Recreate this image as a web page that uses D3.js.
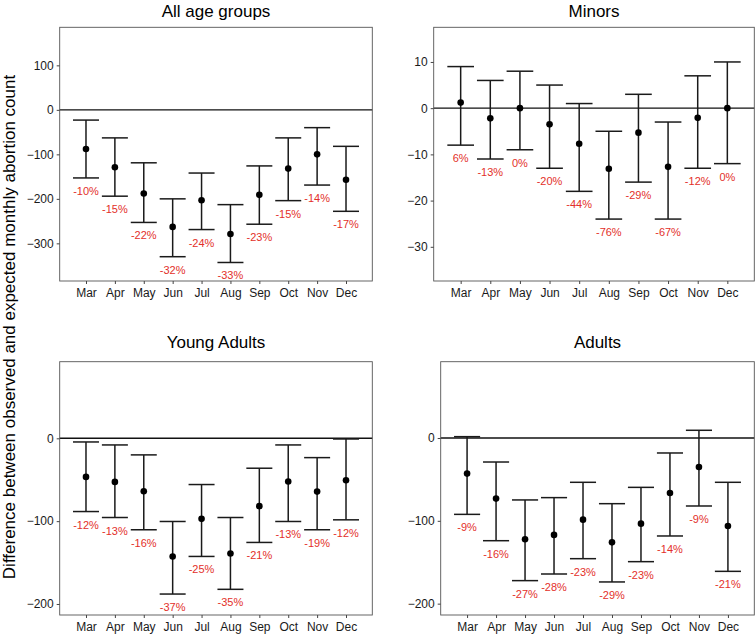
<!DOCTYPE html>
<html>
<head>
<meta charset="utf-8">
<script src="https://cdn.jsdelivr.net/npm/d3@7"></script>
<style>
  html, body { margin: 0; padding: 0; background: #fff; }
  svg { display: block; font-family: "Liberation Sans", Arial, Helvetica, sans-serif; }
</style>
</head>
<body>
<svg id="chart" width="756" height="636"></svg>
<script>
// ---------------- DATA ----------------
const months = ["Mar", "Apr", "May", "Jun", "Jul", "Aug", "Sep", "Oct", "Nov", "Dec"];

const allEst   = [-88, -129, -188, -263, -203, -279, -191, -132, -100, -157];
const allLower = [-153, -194, -253, -330, -269, -343, -257, -204, -169, -228];
const allUpper = [-23, -63, -119, -200, -142, -213, -126, -63, -40, -82];
const allPct   = ["-10%", "-15%", "-22%", "-32%", "-24%", "-33%", "-23%", "-15%", "-14%", "-17%"];
const allTicks = [100, 0, -100, -200, -300];

const minEst   = [1.2, -2.2, 0, -3.5, -7.7, -13.1, -5.3, -12.7, -2.1, 0];
const minLower = [-8, -11, -9, -13, -18, -24, -16, -24, -13, -12];
const minUpper = [9, 6, 8, 5, 1, -5, 3, -3, 7, 10];
const minPct   = ["6%", "-13%", "0%", "-20%", "-44%", "-76%", "-29%", "-67%", "-12%", "0%"];
const minTicks = [10, 0, -10, -20, -30];

const yaEst   = [-46.6, -52.6, -63.9, -142.6, -97.2, -139, -81.9, -52.2, -64.3, -50.6];
const yaLower = [-88.4, -95.6, -110.4, -188, -142.6, -182.3, -125.7, -100.4, -110.4, -98.4];
const yaUpper = [-4.4, -8, -20, -100.4, -55.8, -95.6, -36.1, -8, -23.3, -0.8];
const yaPct   = ["-12%", "-13%", "-16%", "-37%", "-25%", "-35%", "-21%", "-13%", "-19%", "-12%"];
const yaTicks = [0, -100, -200];

const adEst   = [-43, -73.2, -122.3, -117, -98.6, -126, -103.4, -66.4, -35, -106.2];
const adLower = [-92.2, -124, -172.2, -164.2, -145.7, -173.8, -149.3, -118.3, -82.1, -161];
const adUpper = [1.6, -29, -74.8, -72, -53.5, -79.3, -59.6, -18.1, 9.3, -53.5];
const adPct   = ["-9%", "-16%", "-27%", "-28%", "-23%", "-29%", "-23%", "-14%", "-9%", "-21%"];
const adTicks = [0, -100, -200];

const titles = ["All age groups", "Minors", "Young Adults", "Adults"];
const yTitle = "Difference between observed and expected monthly abortion count";

// ---------------- LAYOUT ----------------
const panels = [
  { title: titles[0], est: allEst, lo: allLower, hi: allUpper, pct: allPct, ticks: allTicks,
    box: [59.7, 27.3, 372.3, 281], dom: [-384.6, 185.5], titleY: 17 },
  { title: titles[1], est: minEst, lo: minLower, hi: minUpper, pct: minPct, ticks: minTicks,
    box: [433.7, 27.3, 754.3, 281], dom: [-37.4, 17.5], titleY: 17 },
  { title: titles[2], est: yaEst, lo: yaLower, hi: yaUpper, pct: yaPct, ticks: yaTicks,
    box: [59.7, 361.7, 372.3, 615], dom: [-213.3, 92.5], titleY: 348 },
  { title: titles[3], est: adEst, lo: adLower, hi: adUpper, pct: adPct, ticks: adTicks,
    box: [440.7, 361.7, 754.3, 615], dom: [-213.7, 92.1], titleY: 348 }
];

const svg = d3.select("#chart");
const textColor = "#1a1a1a";
const lineColor = "#1a1a1a";
const red = "#e3302a";

panels.forEach(p => {
  const [x0, y0, x1, y1] = p.box;
  const x = d3.scaleLinear().domain([1 - 0.91, months.length + 0.91]).range([x0, x1]);
  const y = d3.scaleLinear().domain(p.dom).range([y1, y0]);
  const band = x(2) - x(1);
  const capHalf = band * 0.45;

  const g = svg.append("g");

  // title
  g.append("text")
    .attr("x", (x0 + x1) / 2).attr("y", p.titleY)
    .attr("text-anchor", "middle")
    .attr("font-size", 17).attr("fill", "#000")
    .text(p.title);

  // zero line
  g.append("line")
    .attr("x1", x0).attr("x2", x1)
    .attr("y1", y(0)).attr("y2", y(0))
    .attr("stroke", "#111").attr("stroke-width", 1.4);

  // error bars
  const items = months.map((m, i) => ({ m, i, est: p.est[i], lo: p.lo[i], hi: p.hi[i], pct: p.pct[i] }));
  const eb = g.selectAll("g.eb").data(items).enter().append("g").attr("class", "eb");
  eb.append("line")
    .attr("x1", d => x(d.i + 1)).attr("x2", d => x(d.i + 1))
    .attr("y1", d => y(d.hi)).attr("y2", d => y(d.lo))
    .attr("stroke", lineColor).attr("stroke-width", 1.5);
  eb.append("line")
    .attr("x1", d => x(d.i + 1) - capHalf).attr("x2", d => x(d.i + 1) + capHalf)
    .attr("y1", d => y(d.hi)).attr("y2", d => y(d.hi))
    .attr("stroke", lineColor).attr("stroke-width", 1.5);
  eb.append("line")
    .attr("x1", d => x(d.i + 1) - capHalf).attr("x2", d => x(d.i + 1) + capHalf)
    .attr("y1", d => y(d.lo)).attr("y2", d => y(d.lo))
    .attr("stroke", lineColor).attr("stroke-width", 1.5);
  eb.append("circle")
    .attr("cx", d => x(d.i + 1)).attr("cy", d => y(d.est))
    .attr("r", 3.3).attr("fill", "#000");
  eb.append("text")
    .attr("x", d => x(d.i + 1)).attr("y", d => y(d.lo) + 17)
    .attr("text-anchor", "middle")
    .attr("font-size", 11).attr("fill", red)
    .text(d => d.pct);

  // frame
  g.append("rect")
    .attr("x", x0).attr("y", y0).attr("width", x1 - x0).attr("height", y1 - y0)
    .attr("fill", "none").attr("stroke", "#555").attr("stroke-width", 0.9);

  // y axis
  const yAxis = d3.axisLeft(y).tickValues(p.ticks).tickSize(3).tickPadding(3).tickFormat(d3.format("d"));
  const ya = g.append("g").attr("transform", `translate(${x0},0)`).call(yAxis);
  ya.select(".domain").remove();
  ya.selectAll(".tick line").attr("stroke", "#444");
  ya.selectAll(".tick text").attr("font-size", 12).attr("fill", textColor)
    .attr("font-family", "\"Liberation Sans\", Arial, sans-serif");

  // x axis
  const xAxis = d3.axisBottom(x).tickValues(months.map((m, i) => i + 1))
    .tickFormat(d => months[d - 1]).tickSize(3).tickPadding(4);
  const xa = g.append("g").attr("transform", `translate(0,${y1})`).call(xAxis);
  xa.select(".domain").remove();
  xa.selectAll(".tick line").attr("stroke", "#444");
  xa.selectAll(".tick text").attr("font-size", 12).attr("fill", textColor)
    .attr("font-family", "\"Liberation Sans\", Arial, sans-serif");
});

// y-axis title
svg.append("text")
  .attr("transform", "translate(15,327) rotate(-90)")
  .attr("text-anchor", "middle")
  .attr("font-size", 17).attr("fill", "#000")
  .text(yTitle);
</script>
</body>
</html>
